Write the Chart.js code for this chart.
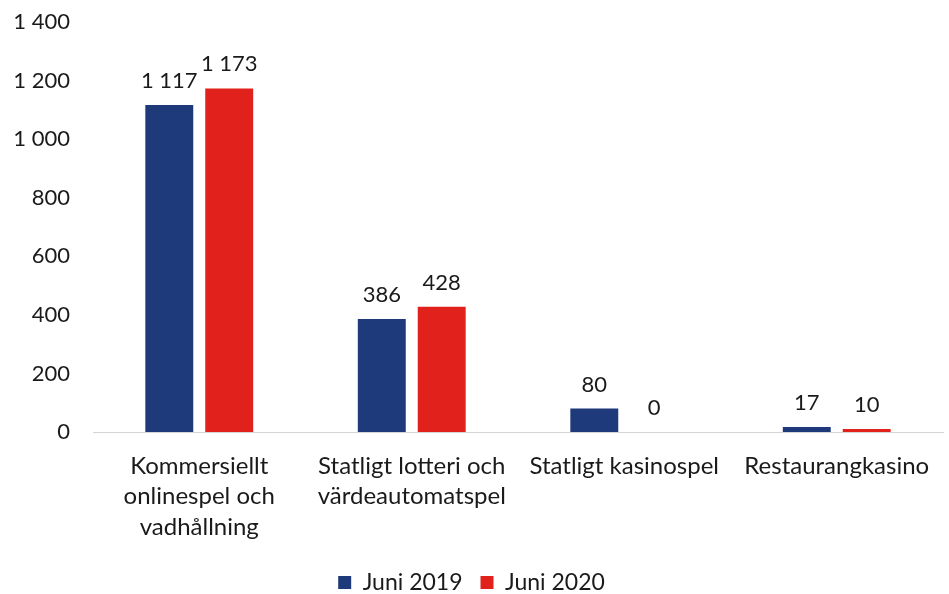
<!DOCTYPE html>
<html>
<head>
<meta charset="utf-8">
<script src="https://cdn.jsdelivr.net/npm/chart.js@4/dist/chart.umd.min.js"></script>
<style>
html,body{margin:0;padding:0;background:#fff;}
#wrap{width:949px;height:594px;position:relative;}
</style>
</head>
<body>
<div id="wrap"><canvas id="c" width="949" height="594"></canvas></div>
<script>
const categories = [
  ["Kommersiellt", "onlinespel och", "vadhållning"],
  ["Statligt lotteri och", "värdeautomatspel"],
  "Statligt kasinospel",
  "Restaurangkasino"
];
const seriesNames = ["Juni 2019", "Juni 2020"];
const juni2019 = [1117, 386, 80, 17];
const juni2020 = [1173, 428, 0, 10];
const yTicks = [0, 200, 400, 600, 800, 1000, 1200, 1400];

const FONT = "Lato, 'Open Sans', sans-serif";
const fmt = v => String(v).replace(/\B(?=(\d{3})+(?!\d))/g, "\u00a0");

const labelPlugin = {
  id: "valueLabels",
  afterLayout(chart) {
    const l = chart.legend;
    if (l) { l.top += 10; l.bottom += 10; }
  },
  afterDatasetsDraw(chart) {
    const ctx = chart.ctx;
    ctx.save();
    ctx.font = "22px " + FONT;
    ctx.fillStyle = "#1a1a1a";
    ctx.textAlign = "center";
    ctx.textBaseline = "alphabetic";
    chart.data.datasets.forEach((ds, i) => {
      chart.getDatasetMeta(i).data.forEach((bar, j) => {
        ctx.fillText(fmt(ds.data[j]), bar.x, bar.y - 17);
      });
    });
    ctx.restore();
  }
};

new Chart(document.getElementById("c"), {
  type: "bar",
  data: {
    labels: categories,
    datasets: [
      { label: seriesNames[0], data: juni2019, backgroundColor: "#1e3a7a" },
      { label: seriesNames[1], data: juni2020, backgroundColor: "#e1221c" }
    ]
  },
  options: {
    responsive: false,
    animation: false,
    devicePixelRatio: 1,
    layout: { padding: { top: 22, right: 6, left: 0, bottom: 0 } },
    datasets: { bar: { categoryPercentage: 0.564, barPercentage: 0.8 } },
    plugins: {
      legend: {
        position: "bottom",
        labels: {
          font: { family: FONT, size: 23 },
          color: "#1a1a1a",
          boxWidth: 13,
          boxHeight: 13,
          padding: 18
        }
      },
      tooltip: { enabled: false }
    },
    scales: {
      x: {
        afterFit: s => { s.height = 111; },
        grid: { display: false, drawTicks: false },
        border: { display: true, color: "#d4d4d4", width: 1 },
        ticks: {
          font: { family: FONT, size: 24, lineHeight: 1.27 },
          color: "#1a1a1a",
          padding: 19,
          maxRotation: 0,
          autoSkip: false
        }
      },
      y: {
        min: 0,
        max: 1400,
        afterBuildTicks: s => { s.ticks = yTicks.map(v => ({ value: v })); },
        afterFit: s => { s.width = 93; },
        grid: { display: false, drawTicks: true, tickLength: 23 },
        border: { display: false },
        ticks: {
          font: { family: FONT, size: 22 },
          color: "#1a1a1a",
          padding: 0,
          callback: v => fmt(v)
        }
      }
    }
  },
  plugins: [labelPlugin]
});
</script>
</body>
</html>
